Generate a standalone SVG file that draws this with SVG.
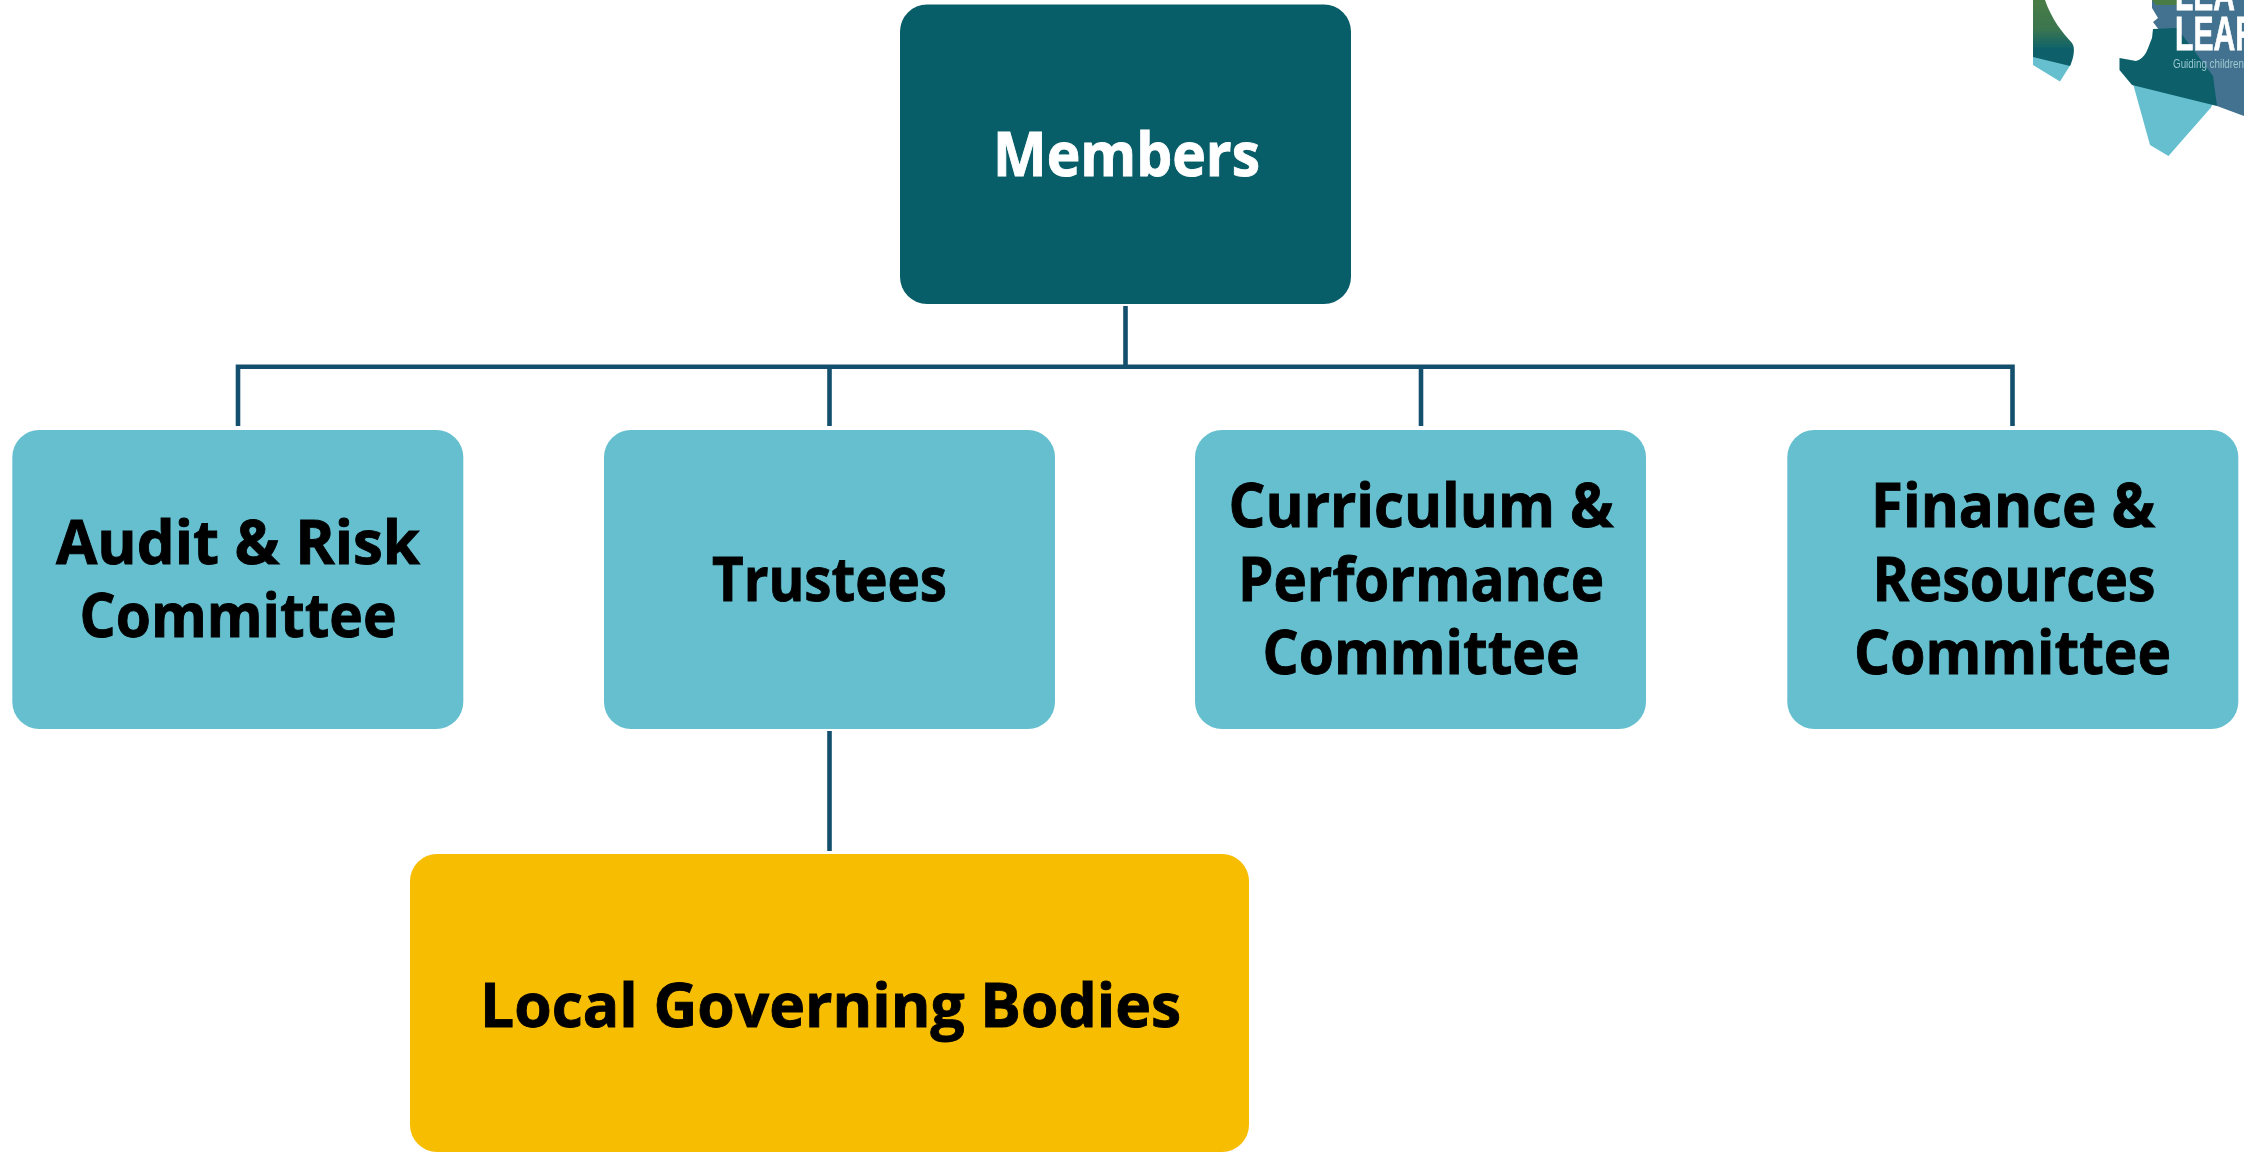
<svg xmlns="http://www.w3.org/2000/svg" width="2244" height="1152" viewBox="0 0 2244 1152">
<style>
.box{stroke:none}
.teal{fill:#085e68}.sky{fill:#65bfcf}.gold{fill:#f7bd00}
.lbl{font-family:"Open Sans","Noto Sans","Liberation Sans",sans-serif;font-weight:700;font-size:60px;text-anchor:middle;fill:#000;stroke:#000;stroke-width:0.9px}
.wht{fill:#fff;stroke:#fff}
.cn{stroke:#14506e;stroke-width:4.6;fill:none;stroke-linejoin:miter}
</style>
<defs>
<linearGradient id="lg" x1="0" y1="0" x2="0" y2="1"><stop offset="0" stop-color="#4a7c45"/><stop offset="0.45" stop-color="#3a7550"/><stop offset="0.75" stop-color="#0c616b"/><stop offset="1" stop-color="#0a5f69"/></linearGradient>
<filter id="soft" x="-5%" y="-5%" width="110%" height="110%"><feGaussianBlur stdDeviation="0.6"/></filter>
</defs>
<rect width="2244" height="1152" fill="#fff"/>
<g id="logo" filter="url(#soft)">
<path d="M2033 56.500L2071 64L2060 81.500L2033 65Z" fill="#65bfcf"/>
<path d="M2033 0H2045C2052 20 2062 32 2072 43C2076 48 2073 60 2070 66L2033 57Z" fill="url(#lg)"/>
<path d="M2132 80L2214 100L2211 107.500L2168.500 156L2150 145Z" fill="#65bfcf"/>
<path d="M2152 0H2244V116L2217 106L2153 22L2158 18L2152 8Z" fill="#43728f"/>
<path d="M2152 0H2178V5L2156 5Z" fill="#4a7c45"/>
<path d="M2153 29L2177 28L2213 76L2217 106L2132 85L2119.500 70L2119.500 58L2136 61C2146 58 2147 50 2152 38Z" fill="#0a5f69"/>
<text x="2175" y="10" font-family="'Liberation Sans',sans-serif" font-weight="700" font-size="49" fill="#fff" stroke="#fff" stroke-width="0.8" textLength="60" lengthAdjust="spacingAndGlyphs">LEA</text>
<text x="2175" y="50" font-family="'Liberation Sans',sans-serif" font-weight="700" font-size="49" fill="#fff" stroke="#fff" stroke-width="0.8" textLength="82" lengthAdjust="spacingAndGlyphs">LEAR</text>
<text x="2173" y="68" font-family="'Liberation Sans',sans-serif" font-size="12" fill="#9cc6d0" textLength="71" lengthAdjust="spacingAndGlyphs">Guiding children</text>
</g>
<g id="connectors">
<path class="cn" d="M1125.500 306V366.700"/>
<path class="cn" d="M238 426V366.700H2012.500V426"/>
<path class="cn" d="M829.500 366.700V426"/>
<path class="cn" d="M1421 366.700V426"/>
<path class="cn" d="M829.500 731V851"/>
</g>
<g id="members"><rect class="box teal" x="900" y="4.500" width="451" height="299.500" rx="27"/>
<text class="lbl wht" x="1126.500" y="175.700" textLength="267" lengthAdjust="spacingAndGlyphs">Members</text></g>
<g id="audit"><rect class="box sky" x="12.300" y="430" width="451" height="299" rx="27"/>
<text class="lbl" x="238" y="564" textLength="364" lengthAdjust="spacingAndGlyphs">Audit &amp; Risk</text>
<text class="lbl" x="238" y="637.300" textLength="317" lengthAdjust="spacingAndGlyphs">Committee</text></g>
<g id="trustees"><rect class="box sky" x="604" y="430" width="451" height="299" rx="27"/>
<text class="lbl" x="829.500" y="600.500" textLength="235" lengthAdjust="spacingAndGlyphs">Trustees</text></g>
<g id="curriculum"><rect class="box sky" x="1195" y="430" width="451" height="299" rx="27"/>
<text class="lbl" x="1421" y="527" textLength="385" lengthAdjust="spacingAndGlyphs">Curriculum &amp;</text>
<text class="lbl" x="1421" y="600.500" textLength="366" lengthAdjust="spacingAndGlyphs">Performance</text>
<text class="lbl" x="1421" y="673.700" textLength="317" lengthAdjust="spacingAndGlyphs">Committee</text></g>
<g id="finance"><rect class="box sky" x="1787.300" y="430" width="451" height="299" rx="27"/>
<text class="lbl" x="2013" y="527" textLength="284" lengthAdjust="spacingAndGlyphs">Finance &amp;</text>
<text class="lbl" x="2014" y="600.500" textLength="283" lengthAdjust="spacingAndGlyphs">Resources</text>
<text class="lbl" x="2012.500" y="673.700" textLength="317" lengthAdjust="spacingAndGlyphs">Committee</text></g>
<g id="local-governing-bodies"><rect class="box gold" x="410" y="854" width="839" height="298" rx="27"/>
<text class="lbl" x="830.500" y="1026.700" textLength="701" lengthAdjust="spacingAndGlyphs">Local Governing Bodies</text></g>
</svg>
